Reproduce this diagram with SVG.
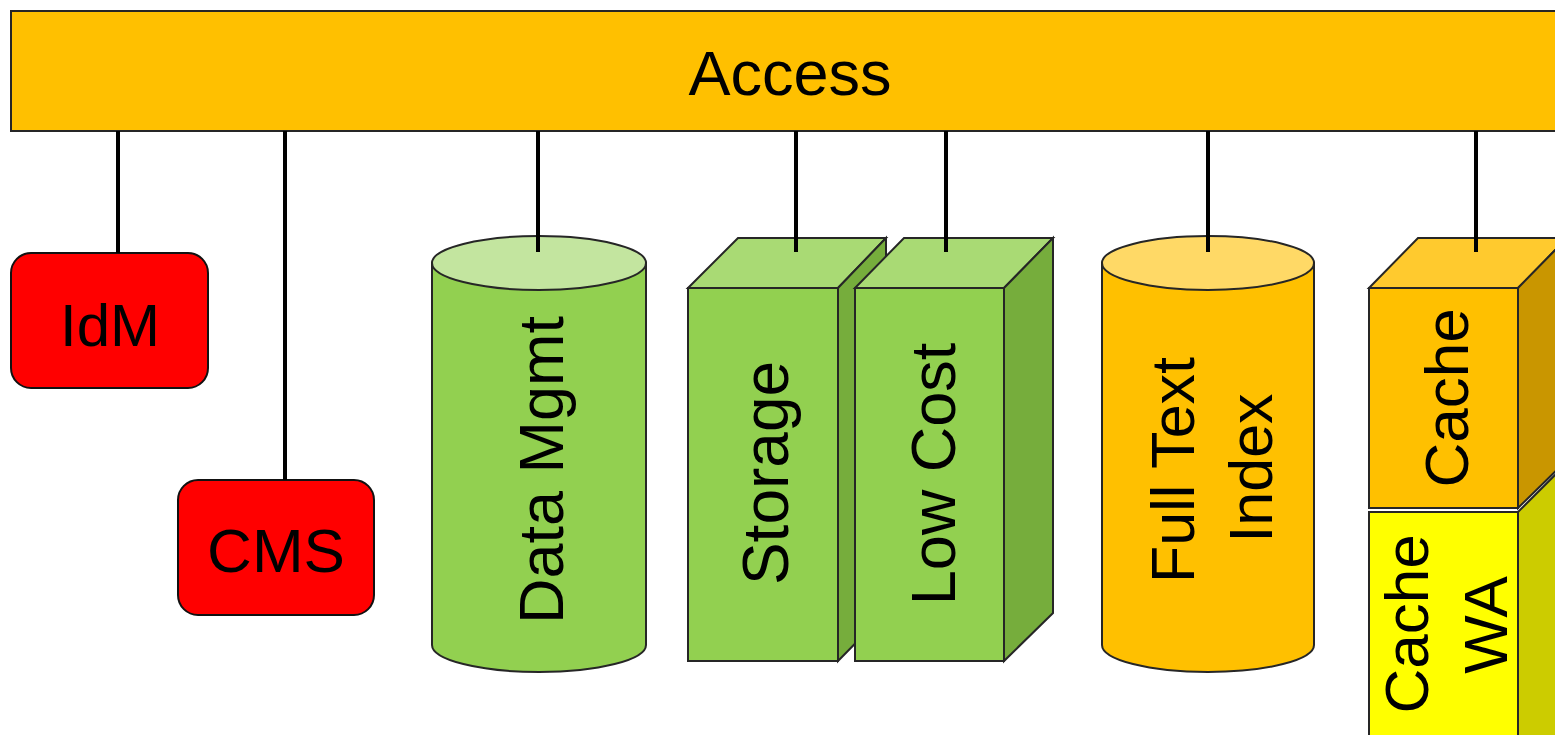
<svg xmlns="http://www.w3.org/2000/svg" width="1555" height="735" viewBox="0 0 1555 735">
<style>
text{font-family:"Liberation Sans",Arial,sans-serif;fill:#000}
.ln{stroke:#000;stroke-width:4;fill:none}
.ol{stroke:#262626;stroke-width:2}
.red{fill:#FF0000;stroke:#111;stroke-width:2}
</style>
<rect width="1555" height="735" fill="#fff"/>
<g id="access">
<rect x="11" y="11" width="1560" height="120" fill="#FFC000" class="ol"/>
<text x="790" y="95" font-size="63" text-anchor="middle">Access</text>
</g>
<g id="idm">
<rect x="11" y="253" width="197" height="135" rx="20" class="red"/>
<text x="110" y="346" font-size="60" text-anchor="middle">IdM</text>
</g>
<g id="cms">
<rect x="178" y="480" width="196" height="135" rx="20" class="red"/>
<text x="276" y="572" font-size="62" text-anchor="middle">CMS</text>
</g>
<g id="datamgmt">
<path d="M432,263 V645 A107,27 0 0 0 646,645 V263 Z" fill="#92D050" class="ol"/>
<ellipse cx="539" cy="263" rx="107" ry="27" fill="#C3E59F" class="ol"/>
<text transform="translate(563,470) rotate(-90)" font-size="63" text-anchor="middle">Data Mgmt</text>
</g>
<g id="storage">
<polygon points="688,288 738,238 886,238 838,288" fill="#A9DA74" class="ol"/>
<polygon points="838,288 886,238 886,612 838,661" fill="#76AD3C" class="ol"/>
<rect x="688" y="288" width="150" height="373" fill="#92D050" class="ol"/>
<text transform="translate(788,473) rotate(-90)" font-size="64" text-anchor="middle">Storage</text>
</g>
<g id="lowcost">
<polygon points="855,288 904,238 1053,238 1004,288" fill="#A9DA74" class="ol"/>
<polygon points="1004,288 1053,238 1053,613 1004,661" fill="#76AD3C" class="ol"/>
<rect x="855" y="288" width="149" height="373" fill="#92D050" class="ol"/>
<text transform="translate(955,474) rotate(-90)" font-size="63" text-anchor="middle">Low Cost</text>
</g>
<g id="fulltext">
<path d="M1102,263 V645 A106,27 0 0 0 1314,645 V263 Z" fill="#FFC000" class="ol"/>
<ellipse cx="1208" cy="263" rx="106" ry="27" fill="#FFD966" class="ol"/>
<text transform="translate(1194,470) rotate(-90)" font-size="61" text-anchor="middle">Full Text</text>
<text transform="translate(1272,468) rotate(-90)" font-size="61" text-anchor="middle">Index</text>
</g>
<g id="cachewa">
<polygon points="1518,512 1567,463 1567,760 1518,760" fill="#CCCC00" class="ol"/>
<rect x="1369" y="512" width="149" height="250" fill="#FFFF00" class="ol"/>
<text transform="translate(1428,624) rotate(-90)" font-size="62" text-anchor="middle">Cache</text>
<text transform="translate(1507,625) rotate(-90)" font-size="62" text-anchor="middle">WA</text>
</g>
<g id="cache">
<polygon points="1369,288 1418,238 1567,238 1518,288" fill="#FFCA2E" class="ol"/>
<polygon points="1518,288 1567,238 1567,460 1518,508" fill="#C99600" class="ol"/>
<rect x="1369" y="288" width="149" height="220" fill="#FFC000" class="ol"/>
<text transform="translate(1468,398) rotate(-90)" font-size="62" text-anchor="middle">Cache</text>
</g>
<g id="connectors">
<line x1="118" y1="131" x2="118" y2="253" class="ln"/>
<line x1="285" y1="131" x2="285" y2="480" class="ln"/>
<line x1="538" y1="131" x2="538" y2="252" class="ln"/>
<line x1="796" y1="131" x2="796" y2="252" class="ln"/>
<line x1="946" y1="131" x2="946" y2="252" class="ln"/>
<line x1="1208" y1="131" x2="1208" y2="252" class="ln"/>
<line x1="1476" y1="131" x2="1476" y2="252" class="ln"/>
</g>
</svg>
